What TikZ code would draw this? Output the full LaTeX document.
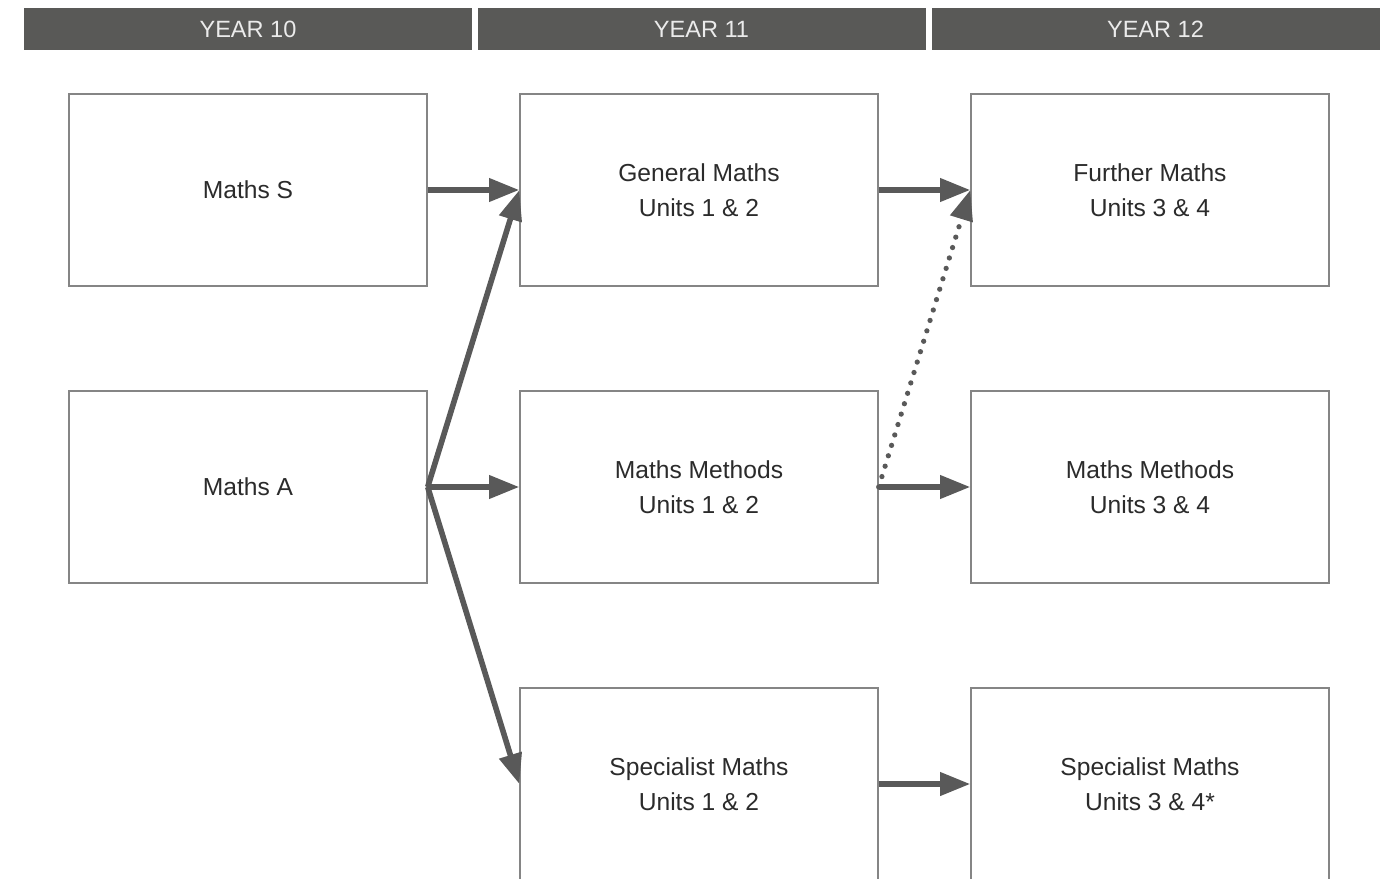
\documentclass[tikz,border=0pt]{standalone}
\usepackage{fontspec}
\setmainfont{Liberation Sans}
\usepackage{tikz}
\usetikzlibrary{arrows.meta}
\definecolor{bandgray}{HTML}{595957}
\definecolor{arrowgray}{HTML}{595959}
\definecolor{edgegray}{HTML}{858585}
\definecolor{textgray}{HTML}{2b2b2b}

\begin{document}
\begin{tikzpicture}[
    x=0.05cm, y=-0.05cm,
    >={Triangle[length=43pt,width=32pt]},
    yearband/.style={
        fill=bandgray,
        draw=none,
        minimum width=22.4cm,
        minimum height=2.1cm,
        inner sep=0pt,
        text=white!92!black,
        font=\fontsize{33.5}{38}\selectfont
    },
    course/.style={
        draw=edgegray,
        line width=2pt,
        fill=white,
        minimum width=17.9cm,
        minimum height=9.6cm,
        align=center,
        text=textgray,
        font=\fontsize{35}{49}\selectfont
    },
    path/.style={
        ->,
        line width=8pt,
        arrowgray
    },
    maybe/.style={
        ->,
        line width=7.5pt,
        line cap=round,
        dash pattern=on 0pt off 15.5pt,
        arrowgray
    }
]

    \useasboundingbox (0,0) rectangle (1394,879);
    \clip (0,0) rectangle (1394,879);

    % year headings
    \node[yearband] (y10) at (248,29)    {YEAR 10};
    \node[yearband] (y11) at (701.5,29)  {YEAR 11};
    \node[yearband] (y12) at (1155.5,29) {YEAR 12};

    % year 10
    \node[course] (mathsS) at (248,190) {Maths S};
    \node[course] (mathsA) at (248,487) {Maths A};

    % year 11
    \node[course] (gen12)  at (699,190) {General Maths\\Units 1 \& 2};
    \node[course] (meth12) at (699,487) {Maths Methods\\Units 1 \& 2};
    \node[course] (spec12) at (699,784) {Specialist Maths\\Units 1 \& 2};

    % year 12
    \node[course] (fur34)  at (1150,190) {Further Maths\\Units 3 \& 4};
    \node[course] (meth34) at (1150,487) {Maths Methods\\Units 3 \& 4};
    \node[course] (spec34) at (1150,784) {Specialist Maths\\Units 3 \& 4*};

    % pathways
    \draw[path] (mathsS.east) -- (gen12.west);
    \draw[path] (mathsA.east) -- (gen12.west);
    \draw[path] (mathsA.east) -- (meth12.west);
    \draw[path] (mathsA.east) -- (spec12.west);

    \draw[path] (gen12.east)  -- (fur34.west);
    \draw[path] (meth12.east) -- (meth34.west);
    \draw[path] (spec12.east) -- (spec34.west);

    \draw[maybe] (meth12.east) -- (fur34.west);

\end{tikzpicture}
\end{document}
